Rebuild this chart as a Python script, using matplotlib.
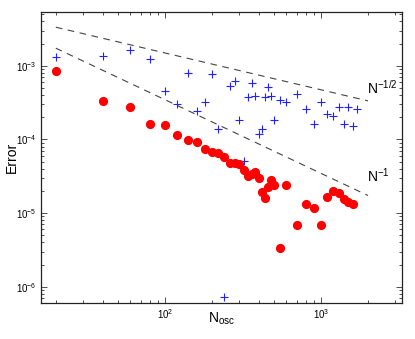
import numpy as np
import matplotlib
matplotlib.use("Agg")
import matplotlib.pyplot as plt
from matplotlib.ticker import LogLocator, NullFormatter

plt.rcParams['font.family'] = ['Liberation Sans', 'DejaVu Sans']
plt.rcParams['mathtext.default'] = 'regular'

# Red circles (N_osc, Error)
n_red = [20, 40, 60, 80, 100, 120, 140, 160, 180, 200, 220, 240, 260, 280, 300,
         320, 340, 360, 380, 400, 420, 440, 460, 480, 500, 550, 600, 700, 800,
         900, 1000, 1100, 1200, 1300, 1400, 1500, 1600]
err_red = [8.55e-4, 3.31e-4, 2.77e-4, 1.62e-4, 1.56e-4, 1.14e-4, 9.66e-5, 9.3e-5,
           7.52e-5, 6.64e-5, 6.55e-5, 5.76e-5, 4.81e-5, 4.75e-5, 4.6e-5, 3.81e-5,
           3.18e-5, 3.38e-5, 3.58e-5, 2.99e-5, 1.95e-5, 1.61e-5, 2.24e-5, 2.8e-5,
           2.42e-5, 3.31e-6, 2.38e-5, 6.95e-6, 1.31e-5, 1.17e-5, 6.81e-6, 1.67e-5,
           1.97e-5, 1.87e-5, 1.55e-5, 1.4e-5, 1.32e-5]

# Blue crosses (N_osc, Error)
n_blue = [20, 40, 60, 80, 100, 120, 140, 160, 180, 200, 220, 240, 260, 280, 300,
          320, 340, 360, 380, 400, 420, 440, 460, 480, 500, 550, 600, 700, 800,
          900, 1000, 1100, 1200, 1300, 1400, 1500, 1600, 1700]
err_blue = [1.33e-3, 1.34e-3, 1.63e-3, 1.24e-3, 4.57e-4, 2.99e-4, 8.03e-4, 2.44e-4,
            3.23e-4, 7.78e-4, 1.37e-4, 7.2e-7, 5.30e-4, 6.14e-4, 1.84e-4, 5.13e-5,
            3.72e-4, 5.82e-4, 3.89e-4, 1.20e-4, 1.38e-4, 3.74e-4, 5.12e-4, 3.92e-4,
            1.84e-4, 3.44e-4, 3.19e-4, 4.09e-4, 2.60e-4, 1.61e-4, 3.26e-4, 2.20e-4,
            2.05e-4, 2.74e-4, 1.62e-4, 2.74e-4, 1.53e-4, 2.57e-4]

# Reference slopes
ref_n = [20, 2000]
c_half = 0.0149
c_one = 0.0346

fig = plt.figure(figsize=(4.15, 3.39), dpi=100)
ax = fig.add_axes([0.098, 0.105, 0.870, 0.860])

ref_n = np.array(ref_n, dtype=float)
ax.plot(ref_n, c_half * ref_n ** -0.5, color='#444444', lw=0.8, dashes=(6, 5))
ax.plot(ref_n, c_one * ref_n ** -1.0, color='#444444', lw=0.8, dashes=(6, 5))

ax.plot(n_blue, err_blue, '+', color='#2222ff', ms=6, mew=0.8, ls='none')
ax.plot(n_red, err_red, 'o', color='#ff0000', ms=5.6, mec='#ff0000', ls='none')

ax.set_xscale('log')
ax.set_yscale('log')
ax.set_xlim(16.0, 3290)
ax.set_ylim(5.94e-7, 5.38e-3)

ax.text(2000 * 0.99, c_half * 2000 ** -0.5 * 1.51, r'N$^{-1/2}$', fontsize=10,
        ha='left', va='center')
ax.text(2000 * 0.99, c_one * 2000 ** -1.0 * 1.87, r'N$^{-1}$', fontsize=10,
        ha='left', va='center')

ax.set_xlabel(r'N$_{osc}$', fontsize=10, va='center')
ax.xaxis.set_label_coords(0.5, -0.052)
ax.set_ylabel('Error', fontsize=10, va='center')
ax.yaxis.set_label_coords(-0.079, 0.5)

for a in (ax.xaxis, ax.yaxis):
    a.set_major_locator(LogLocator(base=10, numticks=20))
    a.set_minor_locator(LogLocator(base=10, subs=np.arange(2, 10), numticks=20))
    a.set_minor_formatter(NullFormatter())

ax.tick_params(which='both', direction='in', top=True, right=True, labelsize=7,
               color='#333333', width=0.6)
ax.tick_params(which='major', length=4, pad=3)
ax.tick_params(which='minor', length=2)
for s in ax.spines.values():
    s.set_linewidth(0.9)
    s.set_color('#222222')

fig.savefig('out.png', dpi=100)
